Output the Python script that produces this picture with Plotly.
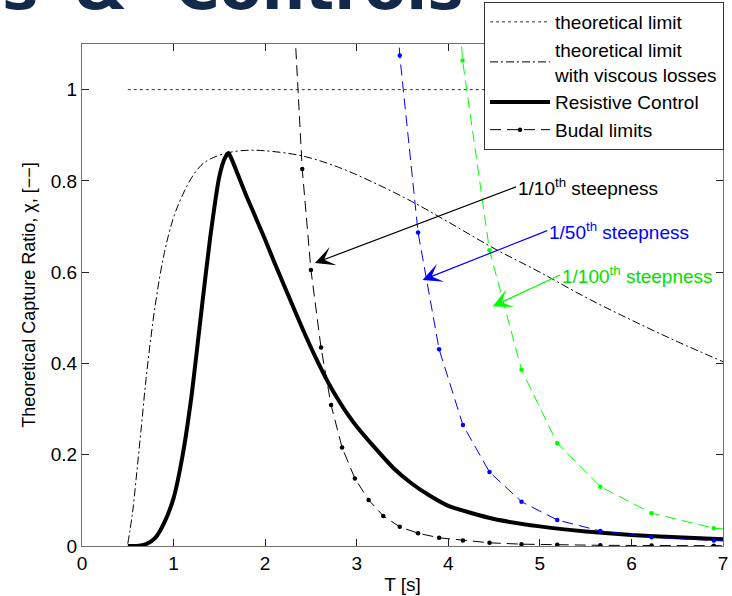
import plotly.graph_objects as go

# ---------------- data ----------------
theo_T = [0.5, 7.0]
theo_y = [1.0, 1.0]

visc_T = [0.5, 0.55, 0.6, 0.65, 0.7, 0.8, 0.9, 1.0, 1.1, 1.2, 1.3, 1.4, 1.6, 1.8, 2.0,
          2.4, 2.8, 3.2, 3.6, 4.0, 4.5, 5.0, 5.5, 6.0, 6.5, 7.0]
visc_y = [0.005, 0.07, 0.165, 0.265, 0.367, 0.528, 0.643, 0.72, 0.77, 0.808, 0.834, 0.848,
          0.862, 0.867, 0.866, 0.855, 0.83, 0.795, 0.755, 0.71, 0.652, 0.60, 0.545, 0.495,
          0.448, 0.404]

res_T = [0.5, 0.6, 0.7, 0.8, 0.9, 1.0, 1.1, 1.2, 1.3, 1.4, 1.5, 1.56, 1.6, 1.64, 1.7,
         1.8, 1.9, 2.0, 2.1, 2.2, 2.3, 2.4, 2.5, 2.6, 2.7, 2.8, 2.9, 3.0, 3.2, 3.4, 3.6,
         3.8, 4.0, 4.5, 5.0, 5.5, 6.0, 6.5, 7.0]
res_y = [0.0, 0.0, 0.004, 0.018, 0.052, 0.105, 0.20, 0.335, 0.508, 0.676, 0.81, 0.85,
         0.861, 0.845, 0.815, 0.765, 0.718, 0.671, 0.622, 0.574, 0.527, 0.48, 0.435, 0.393,
         0.354, 0.32, 0.289, 0.262, 0.215, 0.171, 0.137, 0.11, 0.088, 0.059, 0.043, 0.032,
         0.024, 0.019, 0.015]

budal10_T = [2.24, 2.327, 2.405, 2.5, 2.61, 2.72, 2.84, 2.98, 3.13, 3.29, 3.47, 3.67,
             3.90, 4.16, 4.45, 4.80, 5.19, 5.66, 6.22, 6.90, 7.85]
budal10_y = [1.5, 1.12, 0.826, 0.605, 0.435, 0.309, 0.216, 0.148, 0.101, 0.066, 0.042,
             0.028, 0.018, 0.012, 0.007, 0.004, 0.0025, 0.0015, 0.001, 0.0007, 0.0004]

budal50_T = [3.307, 3.47, 3.67, 3.90, 4.16, 4.45, 4.80, 5.19, 5.66, 6.22, 6.90, 7.85]
budal50_y = [1.65, 1.075, 0.687, 0.431, 0.265, 0.162, 0.097, 0.057, 0.033, 0.019, 0.012, 0.007]

budal100_T = [3.90, 4.156, 4.45, 4.80, 5.19, 5.66, 6.22, 6.90, 7.85]
budal100_y = [1.8, 1.064, 0.648, 0.386, 0.225, 0.130, 0.072, 0.039, 0.024]

x_ticks = [0, 1, 2, 3, 4, 5, 6, 7]
x_labels = ["0", "1", "2", "3", "4", "5", "6", "7"]
y_ticks = [0, 0.2, 0.4, 0.6, 0.8, 1.0]
y_labels = ["0", "0.2", "0.4", "0.6", "0.8", "1"]

GREEN_LINE, GREEN_TEXT = "#00FF00", "#00E000"

# arrow annotations: (label, text colour, arrow colour, tip T, tip y, tail T, tail y)
arrows = [
    ("1/10<sup>th</sup> steepness", "#000000", "#000000", 2.544, 0.620, 4.74, 0.787),
    ("1/50<sup>th</sup> steepness", "#0000FF", "#0000FF", 3.719, 0.583, 5.08, 0.691),
    ("1/100<sup>th</sup> steepness", GREEN_TEXT, GREEN_LINE, 4.484, 0.525, 5.22, 0.594),
]

# cropped slide heading pieces (text, left pixel)
heading = [("s", 0), ("&", 72), ("Controls", 173)]

FONT = "Liberation Sans, Arial, Helvetica, sans-serif"
W, H = 732, 596
ML, MR, MT, MB = 82, 9, 44, 50
PW, PH = W - ML - MR, H - MT - MB

fig = go.Figure()

fig.add_trace(go.Scatter(x=theo_T, y=theo_y, mode="lines", name="theoretical limit",
                         line=dict(color="#333333", width=1, dash="3px,3px")))
fig.add_trace(go.Scatter(x=visc_T, y=visc_y, mode="lines", line_shape="spline",
                         name="theoretical limit<br>with viscous losses",
                         line=dict(color="#000000", width=1, dash="8px,3px,2px,3px")))
fig.add_trace(go.Scatter(x=res_T, y=res_y, mode="lines", line_shape="spline",
                         line_smoothing=0.6, name="Resistive Control",
                         line=dict(color="#000000", width=4)))
fig.add_trace(go.Scatter(x=budal10_T, y=budal10_y, mode="lines+markers", name="Budal limits",
                         line=dict(color="#000000", width=1, dash="11px,6px"),
                         marker=dict(color="#000000", size=4.5)))
fig.add_trace(go.Scatter(x=budal50_T, y=budal50_y, mode="lines+markers", showlegend=False,
                         line=dict(color="#0000FF", width=1, dash="11px,6px"),
                         marker=dict(color="#0000FF", size=4.5)))
fig.add_trace(go.Scatter(x=budal100_T, y=budal100_y, mode="lines+markers", showlegend=False,
                         line=dict(color=GREEN_LINE, width=1, dash="11px,6px"),
                         marker=dict(color=GREEN_LINE, size=4.5)))

annotations = []
for label, tcol, acol, tx, ty, ax, ay in arrows:
    annotations.append(dict(
        x=tx, y=ty, xref="x", yref="y", ax=ax, ay=ay, axref="x", ayref="y",
        text=label, showarrow=True, arrowhead=3, arrowsize=2.7, arrowwidth=1.2,
        arrowcolor=acol, xanchor="left", yanchor="middle",
        font=dict(color=tcol, size=19, family=FONT)))

for txt, px in heading:
    annotations.append(dict(
        x=(px - ML) / PW, y=(PH + MT + 12.5) / PH, xref="paper", yref="paper",
        xanchor="left", yanchor="middle",
        text="<b>" + txt + "</b>", showarrow=False,
        font=dict(family="DejaVu Sans", size=61, color="#13294B")))

fig.update_layout(
    width=W, height=H,
    margin=dict(l=ML, r=MR, t=MT, b=MB, autoexpand=False),
    paper_bgcolor="white", plot_bgcolor="white",
    font=dict(family=FONT, size=19, color="#000000"),
    showlegend=True,
    annotations=annotations,
    legend=dict(x=(724 - ML) / PW, y=(PH + MT - 2) / PH, xanchor="right", yanchor="top",
                bgcolor="white", bordercolor="#333333", borderwidth=1,
                font=dict(size=19, family=FONT), itemwidth=60, tracegroupgap=0),
    xaxis=dict(range=[0, 7], tickvals=x_ticks, ticktext=x_labels,
               ticks="inside", ticklen=7, tickcolor="#222222", showline=True,
               linecolor="#707070", linewidth=1, mirror="ticks", showgrid=False,
               zeroline=False, automargin=False,
               title=dict(text="T [s]", standoff=4, font=dict(size=19))),
    yaxis=dict(range=[0, 1.1], tickvals=y_ticks, ticktext=y_labels,
               ticks="inside", ticklen=7, tickcolor="#222222", showline=True,
               linecolor="#707070", linewidth=1, mirror="ticks", showgrid=False,
               zeroline=False, automargin=False,
               title=dict(text="Theoretical Capture Ratio, χ, [−−]", standoff=10,
                          font=dict(size=18))),
)

fig.write_html("out.html", config={"displayModeBar": False},
               post_script="document.body.style.margin='0';document.body.style.padding='0';")
